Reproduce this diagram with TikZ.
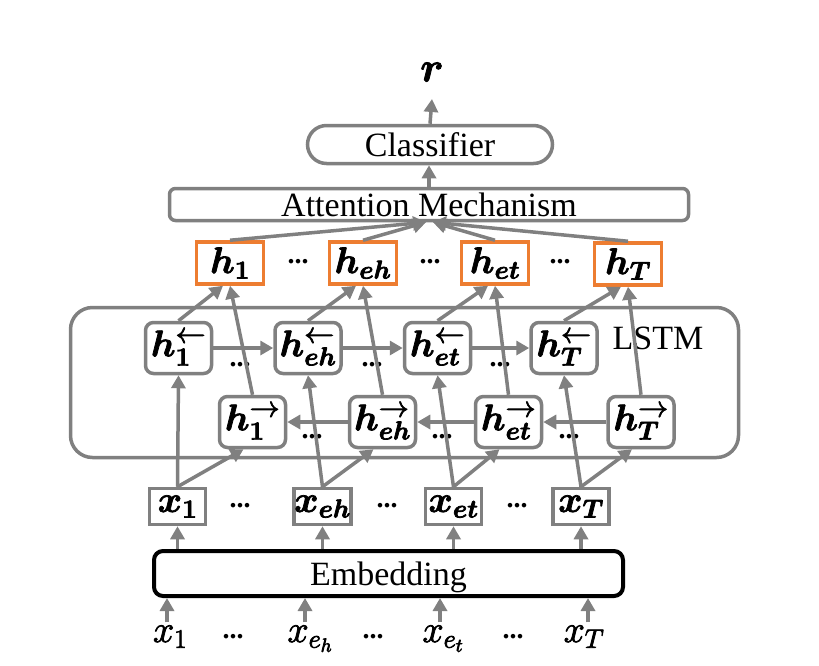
\RequirePackage{fix-cm}
\documentclass[tikz,border=0pt]{standalone}
\usepackage{amsmath}
\usepackage{fontspec}
\setmainfont{Liberation Serif}
\usepackage{bm}
\usetikzlibrary{arrows.meta}
\definecolor{lgray}{RGB}{128,128,128}
\definecolor{orng}{RGB}{237,125,49}
\newcommand\mymsz{\fontsize{37}{37}\selectfont}
\newcommand\mytsz{\fontsize{34}{34}\selectfont}
\newcommand\thk[2]{\special{pdf:literal direct 2 Tr #1 w 0 G}#2\special{pdf:literal direct 0 Tr}}
\newcommand\larr{\mbox{\fontsize{30}{30}\selectfont$\leftarrow$}}
\newcommand\rarr{\mbox{\fontsize{30}{30}\selectfont$\rightarrow$}}
\tikzset{
  arr/.style={draw=lgray, line width=3.5pt, -{Triangle[length=13pt,width=14pt]}},
  obox/.style={draw=orng, fill=white, line width=3.5pt, minimum width=67pt, minimum height=42pt, inner sep=0pt, font=\mymsz},
  lbox/.style={draw=lgray, fill=white, line width=3.5pt, rounded corners=8pt, minimum width=66pt, minimum height=51pt, inner sep=0pt, font=\mymsz},
  xbox/.style={draw=lgray, fill=white, line width=3.5pt, minimum width=56pt, minimum height=36pt, inner sep=0pt, font=\mymsz},
  dotsn/.style={font=\fontsize{28}{28}\selectfont\bfseries, inner sep=0pt},
  bigbox/.style={draw=lgray, line width=3.5pt, inner sep=0pt, font=\mytsz},
  lbl/.style={font=\fontsize{38}{38}\selectfont, inner sep=3pt, anchor=base},
}
\begin{document}
\begin{tikzpicture}[x=1pt,y=-1pt]
\useasboundingbox (0,0) rectangle (819,665);
% big boxes
\node[bigbox, rounded corners=22pt, minimum width=668pt, minimum height=150pt] (lstm) at (404.5,382.5) {};
\node[font=\mytsz, inner sep=0pt] (lstmlbl) at (658,338) {LSTM};
\node[bigbox, fill=white, rounded corners=6pt, minimum width=519pt, minimum height=32pt] (att) at (429,204.5) {Attention Mechanism};
\node[bigbox, fill=white, rounded corners=19pt, minimum width=245pt, minimum height=38pt] (cls) at (430,144.5) {Classifier};
\node[bigbox, draw=black, line width=4pt, fill=white, rounded corners=9pt, minimum width=469pt, minimum height=45pt, text depth=0pt] (emb) at (388.5,573.5) {Embedding};
\node[font=\fontsize{42}{42}\selectfont, inner sep=0pt] (r) at (432,72) {\thk{0.8}{$\bm r$}};
\coordinate (rtip) at (432,99);
% orange hidden outputs
\node[obox] (o1) at (230,263) {\thk{0.7}{$\bm h_{\bm 1}$}};
\node[obox] (o2) at (363,263) {\thk{0.7}{$\bm h_{\bm{eh}}$}};
\node[obox] (o3) at (495,263) {\thk{0.7}{$\bm h_{\bm{et}}$}};
\node[obox] (o4) at (628,264) {\thk{0.7}{$\bm h_{\bm T}$}};
% backward row
\node[lbox] (hl1) at (178.5,348) {\thk{0.7}{$\bm h^{\larr}_{\bm 1}$}};
\node[lbox] (hl2) at (308,348) {\thk{0.7}{$\bm h^{\larr}_{\bm{eh}}$}};
\node[lbox] (hl3) at (437.5,348) {\thk{0.7}{$\bm h^{\larr}_{\bm{et}}$}};
\node[lbox] (hl4) at (564,348) {\thk{0.7}{$\bm h^{\larr}_{\bm T}$}};
% forward row
\node[lbox] (hr1) at (252.5,422) {\thk{0.7}{$\bm h^{\rarr}_{\bm 1}$}};
\node[lbox] (hr2) at (382.5,422) {\thk{0.7}{$\bm h^{\rarr}_{\bm{eh}}$}};
\node[lbox] (hr3) at (508.5,422) {\thk{0.7}{$\bm h^{\rarr}_{\bm{et}}$}};
\node[lbox] (hr4) at (641,422) {\thk{0.7}{$\bm h^{\rarr}_{\bm T}$}};
% x boxes
\node[xbox] (xb1) at (177.5,506.5) {\thk{0.7}{$\bm x_{\bm 1}$}};
\node[xbox] (xb2) at (322.5,506.5) {\thk{0.7}{$\bm x_{\bm{eh}}$}};
\node[xbox] (xb3) at (453.5,506.5) {\thk{0.7}{$\bm x_{\bm{et}}$}};
\node[xbox] (xb4) at (581,506.5) {\thk{0.7}{$\bm x_{\bm T}$}};
% input labels
\node[lbl] (xl1) at (170,642) {\thk{0.8}{$x_1$}};
\node[lbl] (xl2) at (310,642) {\thk{0.8}{$x_{e_h}$}};
\node[lbl] (xl3) at (443,642) {\thk{0.8}{$x_{e_t}$}};
\node[lbl] (xl4) at (584,642) {\thk{0.8}{$x_T$}};
% dots
\node[dotsn] (d1) at (298,262) {...};
\node[dotsn] (d2) at (430,262) {...};
\node[dotsn] (d3) at (560,262) {...};
\node[dotsn] (d4) at (240,365) {...};
\node[dotsn] (d5) at (372,365) {...};
\node[dotsn] (d6) at (500,365) {...};
\node[dotsn] (d7) at (312,437) {...};
\node[dotsn] (d8) at (442,437) {...};
\node[dotsn] (d9) at (569,437) {...};
\node[dotsn] (d10) at (240,506) {...};
\node[dotsn] (d11) at (387,506) {...};
\node[dotsn] (d12) at (517,506) {...};
\node[dotsn] (d13) at (233,637) {...};
\node[dotsn] (d14) at (373,637) {...};
\node[dotsn] (d15) at (513,637) {...};
% top connectors
\draw[arr] (cls.north) -- (rtip);
\draw[arr] (att.north) -- (att.north |- cls.south);
\draw[arr] (o1.north) -- ([xshift=-3pt]att.south);
\draw[arr] (o2.north) -- ([xshift=-3pt]att.south);
\draw[arr] (o3.north) -- ([xshift=4pt]att.south);
\draw[arr] (o4.north) -- ([xshift=4pt]att.south);
% LSTM to outputs
\foreach \i in {1,...,4}{
  \draw[arr] (hl\i.north) -- ([xshift=-7pt]o\i.south);
  \draw[arr] (hr\i.north) -- (o\i.south);
  \draw[arr] (xb\i.north) -- (hl\i.south);
  \draw[arr] (xb\i.north) -- ([xshift=-9pt]hr\i.south);
  \draw[arr] (xb\i.south |- emb.north) -- (xb\i.south);
}
% horizontal recurrences
\draw[arr] (hl1.east) -- (hl2.west);
\draw[arr] (hl2.east) -- (hl3.west);
\draw[arr] (hl3.east) -- (hl4.west);
\draw[arr] (hr2.west) -- (hr1.east);
\draw[arr] (hr3.west) -- (hr2.east);
\draw[arr] (hr4.west) -- (hr3.east);
% input arrows
\draw[arr] ([xshift=-3pt]xl1.north) -- ([xshift=-3pt]xl1.north |- emb.south);
\draw[arr] ([xshift=-5pt]xl2.north) -- ([xshift=-5pt]xl2.north |- emb.south);
\draw[arr] ([xshift=-3pt]xl3.north) -- ([xshift=-3pt]xl3.north |- emb.south);
\draw[arr] ([xshift=4pt]xl4.north) -- ([xshift=4pt]xl4.north |- emb.south);
\end{tikzpicture}
\end{document}
